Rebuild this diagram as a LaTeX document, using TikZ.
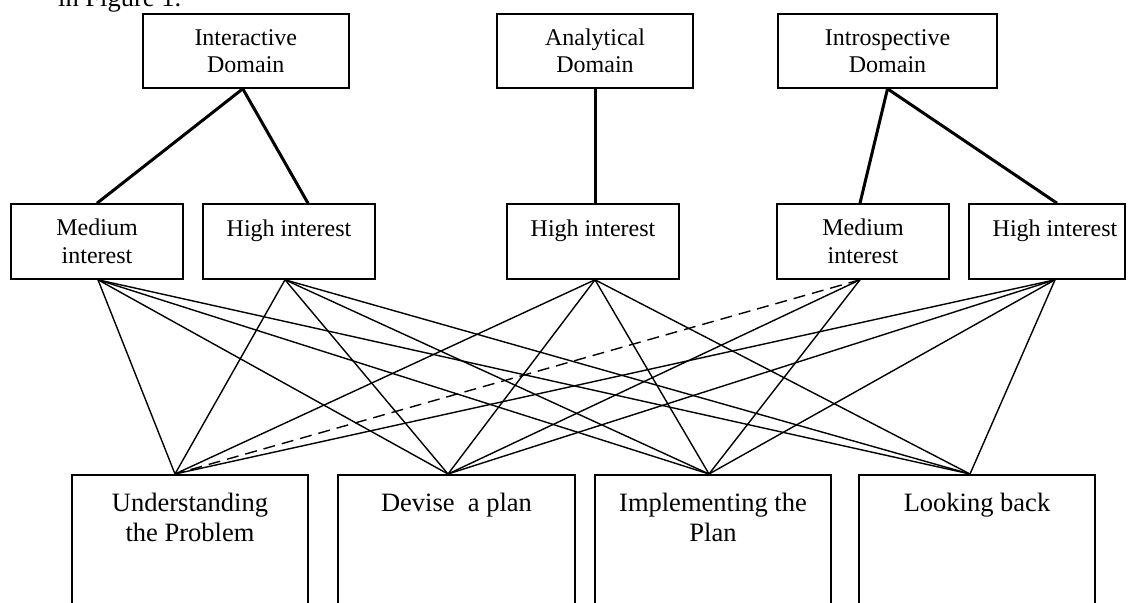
\documentclass[tikz,border=0pt]{standalone}
\usepackage{fontspec}
\setmainfont{Liberation Serif}
\begin{document}
\begin{tikzpicture}[x=1pt,y=-1pt,
  boxbase/.style={draw=black, line width=1.6pt, inner sep=0pt, align=center},
  topbox/.style={boxbase, minimum height=74pt, font=\fontsize{24}{27.5}\selectfont},
  midbox/.style={boxbase, minimum width=172pt, minimum height=75pt, font=\fontsize{24}{27.5}\selectfont},
  botbox/.style={boxbase, anchor=north, minimum width=236pt, minimum height=200pt},
  bottext/.style={anchor=north, inner sep=0pt, align=center, font=\fontsize{26.5}{30}\selectfont},
  bodytext/.style={anchor=base west, inner sep=0pt, font=\fontsize{26.5}{30}\selectfont},
  thickline/.style={line width=3pt},
  thinline/.style={line width=1.4pt},
  dashline/.style={line width=1.4pt, dash pattern=on 12pt off 7pt}]
\useasboundingbox (0,0) rectangle (1129,602);
\clip (0,0) rectangle (1129,602);

% partially visible running text
\node[bodytext] (fig) at (58,7) {in Figure 1.};

% top row
\node[topbox, minimum width=206pt] (inter) at (245.8,51) {Interactive\\Domain};
\node[topbox, minimum width=196pt] (anal) at (595,51) {Analytical\\Domain};
\node[topbox, minimum width=219pt] (intro) at (887.5,51) {Introspective\\Domain};

% middle row
\node[midbox] (ml) at (97,241.5) {Medium\\interest};
\node[midbox] (hl) at (289,241.5) {High interest\\\mbox{}};
\node[midbox] (hm) at (593,241.5) {High interest\\\mbox{}};
\node[midbox] (mr) at (863,241.5) {Medium\\interest};
\node[midbox, minimum width=156pt] (hr) at (1047,241.5) {\hspace*{16pt}High interest\\\mbox{}};

% bottom row
\node[botbox] (u) at (190,474) {};
\node[botbox, minimum width=237pt] (d) at (456.5,474) {};
\node[botbox] (im) at (713,474) {};
\node[botbox] (lb) at (977,474) {};
\node[bottext] (ut) at (190,490) {\strut Understanding\\the Problem};
\node[bottext] (dt) at (456.5,490) {\strut Devise\ \ a plan};
\node[bottext] (imt) at (713,490) {\strut Implementing the\\Plan};
\node[bottext] (lbt) at (977,490) {\strut Looking back};

% thick connectors
\draw[thickline] ([xshift=-3pt]inter.south) -- (ml.north);
\draw[thickline] ([xshift=-3pt]inter.south) -- ([xshift=19pt]hl.north);
\draw[thickline] (anal.south) -- ([xshift=2pt]hm.north);
\draw[thickline] (intro.south) -- ([xshift=-3pt]mr.north);
\draw[thickline] (intro.south) -- ([xshift=10pt]hr.north);

% connection points
\coordinate (mlb) at ([xshift=1pt]ml.south);
\coordinate (hlb) at ([xshift=-4pt]hl.south);
\coordinate (hmb) at ([xshift=2pt]hm.south);
\coordinate (mrb) at ([xshift=-3pt]mr.south);
\coordinate (hrb) at ([xshift=8pt]hr.south);
\coordinate (ut0) at ([xshift=-15pt]u.north);
\coordinate (dt0) at ([xshift=-8.5pt]d.north);
\coordinate (it0) at ([xshift=-4pt]im.north);
\coordinate (lt0) at ([xshift=-7pt]lb.north);

% thin connectors
\foreach \s in {mlb,hlb,hmb,hrb}{
  \foreach \t in {ut0,dt0,it0,lt0}{
    \draw[thinline] (\s) -- (\t);
  }
}
\draw[thinline] (mrb) -- (dt0);
\draw[thinline] (mrb) -- (it0);
\draw[dashline] (mrb) -- (ut0);
\end{tikzpicture}
\end{document}
